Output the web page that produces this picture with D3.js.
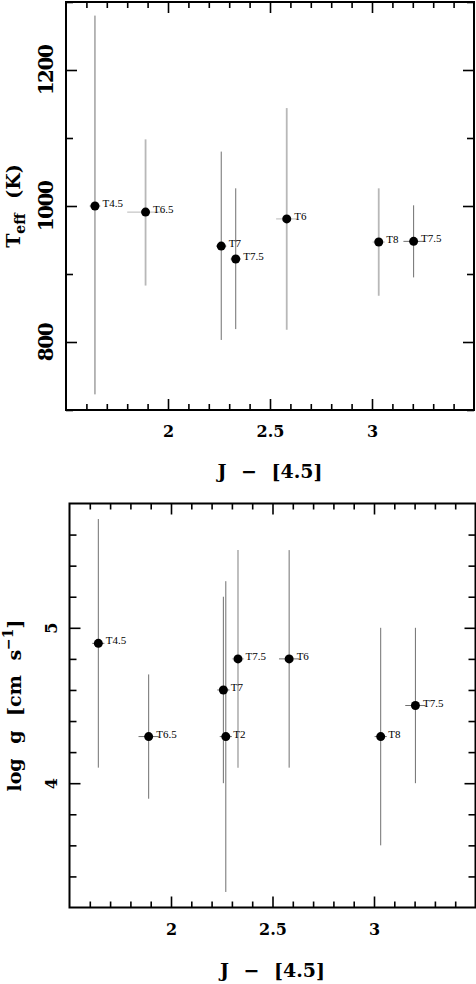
<!DOCTYPE html>
<html>
<head>
<meta charset="utf-8">
<script src="https://cdn.jsdelivr.net/npm/d3@7"></script>
<style>
  body { margin: 0; background: #fff; }
  svg { display: block; }
  .tick text { font-family: "DejaVu Serif", serif; font-weight: bold; }
</style>
</head>
<body>
<div id="graph"></div>
<script>
// x axis: J - [4.5] colour
var xTicks = [2, 2.5, 3];
var xDomain = [1.5, 3.5];

// top panel: Teff
var teffNames = ["T4.5", "T6.5", "T7", "T7.5", "T6", "T8", "T7.5"];
var teffColor = [1.642, 1.89, 2.261, 2.332, 2.582, 3.033, 3.204];
var teffColorErr = [0.026, 0.09, 0.025, 0.025, 0.052, 0.03, 0.05];
var teffValue = [1000, 991, 941, 922, 981, 947, 948];
var teffHigh = [1280, 1098, 1080, 1026, 1144, 1026, 1001];
var teffLow = [723, 883, 803, 819, 818, 868, 895];
var teffLight = [false, true, false, false, true, true, false];
var teffTicks = [800, 1000, 1200];
var teffMinor = [700, 900, 1100, 1300];

// bottom panel: log g
var loggNames = ["T4.5", "T6.5", "T7", "T2", "T7.5", "T6", "T8", "T7.5"];
var loggColor = [1.642, 1.89, 2.258, 2.27, 2.33, 2.582, 3.033, 3.204];
var loggColorErr = [0.03, 0.05, 0.03, 0.03, 0.03, 0.05, 0.03, 0.05];
var loggValue = [4.9, 4.3, 4.6, 4.3, 4.8, 4.8, 4.3, 4.5];
var loggHigh = [5.7, 4.7, 5.2, 5.3, 5.5, 5.5, 5.0, 5.0];
var loggLow = [4.1, 3.9, 4.0, 3.3, 4.1, 4.1, 3.6, 4.0];
var loggLight = [false, false, false, false, true, false, false, false];
var loggTicks = [4, 5];
var loggMinor = [3.4, 3.6, 3.8, 4.2, 4.4, 4.6, 4.8, 5.2, 5.4, 5.6];

var svg = d3.select("#graph").append("svg")
    .attr("width", 476)
    .attr("height", 984);

function panel(opt) {
    var g = svg.append("g")
        .attr("transform", "translate(" + opt.left + "," + opt.top + ")");
    var w = opt.width, h = opt.height;

    var x = d3.scaleLinear().domain(xDomain).range([0, w]);
    var y = d3.scaleLinear().domain(opt.yDomain).range([h, 0]);

    var xMinor = d3.range(16, 35).map(function (d) { return d / 10; })
        .filter(function (d) { return xTicks.indexOf(d) < 0; });

    function ticks(axis, vals, len, labels, tr) {
        var a = axis.tickValues(vals).tickSizeInner(-len).tickSizeOuter(0)
            .tickFormat(labels ? String : "");
        var ax = g.append("g").attr("transform", tr).call(a);
        ax.select(".domain").remove();
        ax.selectAll(".tick line").attr("stroke", "#000").attr("stroke-width", 1.6);
        return ax;
    }

    // bottom
    var bx = ticks(d3.axisBottom(x), xTicks, 11, true, "translate(0," + h + ")");
    bx.selectAll(".tick text")
        .attr("font-size", 16).attr("fill", "#000")
        .attr("y", 27).attr("dy", null);
    ticks(d3.axisBottom(x), xMinor, 6, false, "translate(0," + h + ")");
    // top
    ticks(d3.axisTop(x), xTicks, 11, false, "translate(0,0)");
    ticks(d3.axisTop(x), xMinor, 6, false, "translate(0,0)");
    // left
    var ly = ticks(d3.axisLeft(y), opt.yTicks, 11, true, "translate(0,0)");
    ly.selectAll(".tick text")
        .attr("font-size", opt.yTickSize).attr("fill", "#000")
        .attr("letter-spacing", opt.yTickSpacing)
        .attr("text-anchor", "middle")
        .attr("x", null).attr("dy", null)
        .attr("transform", "translate(" + (-opt.tickLabelGap) + ",0) rotate(-90)");
    ticks(d3.axisLeft(y), opt.yMinor, 7, false, "translate(0,0)");
    // right
    ticks(d3.axisRight(y), opt.yTicks, 11, false, "translate(" + w + ",0)");
    ticks(d3.axisRight(y), opt.yMinor, 7, false, "translate(" + w + ",0)");

    // frame
    g.append("rect")
        .attr("width", w).attr("height", h)
        .attr("fill", "none").attr("stroke", "#000").attr("stroke-width", 2);

    var data = opt.names.map(function (n, i) {
        return { name: n, c: opt.color[i], ce: opt.colorErr[i], v: opt.value[i],
                 hi: opt.high[i], lo: opt.low[i], light: opt.light[i] };
    });

    // error bars
    g.selectAll(".ey").data(data).enter().append("line")
        .attr("x1", function (d) { return x(d.c); })
        .attr("x2", function (d) { return x(d.c); })
        .attr("y1", function (d) { return y(d.hi); })
        .attr("y2", function (d) { return y(d.lo); })
        .attr("stroke", function (d) { return d.light ? "#b8b8b8" : "#707070"; })
        .attr("stroke-width", function (d) { return d.light ? 1.8 : 1; });

    g.selectAll(".ex").data(data).enter().append("line")
        .attr("x1", function (d) { return x(d.c - d.ce); })
        .attr("x2", function (d) { return x(d.c + d.ce); })
        .attr("y1", function (d) { return y(d.v); })
        .attr("y2", function (d) { return y(d.v); })
        .attr("stroke", function (d) { return d.light ? "#b8b8b8" : "#707070"; })
        .attr("stroke-width", 1);

    g.selectAll(".pt").data(data).enter().append("circle")
        .attr("cx", function (d) { return x(d.c); })
        .attr("cy", function (d) { return y(d.v); })
        .attr("r", 4.5)
        .attr("fill", "#000");

    g.selectAll(".lab").data(data).enter().append("text")
        .attr("x", function (d) { return x(d.c) + 7.5; })
        .attr("y", function (d) { return y(d.v) + 1; })
        .attr("font-family", "'Liberation Serif', 'DejaVu Serif', serif")
        .attr("font-size", 11)
        .attr("fill", "#000")
        .text(function (d) { return d.name; });

    // x title
    g.append("text")
        .attr("x", w / 2)
        .attr("y", h + opt.xTitleGap)
        .attr("text-anchor", "middle")
        .attr("font-family", "'DejaVu Serif', serif")
        .attr("font-weight", "bold")
        .attr("font-size", 19)
        .attr("word-spacing", 8)
        .text("J \u2212 [4.5]");

    // y title
    var yt = g.append("text")
        .attr("transform", "translate(" + (-opt.yTitleGap) + "," + (h / 2) + ") rotate(-90)")
        .attr("text-anchor", "middle")
        .attr("font-family", "'DejaVu Serif', serif")
        .attr("font-weight", "bold")
        .attr("font-size", 19)
        .attr("word-spacing", 8);
    opt.yTitle(yt);
}

panel({
    left: 66, top: 2, width: 408, height: 408,
    yDomain: [700, 1300], yTicks: teffTicks, yMinor: teffMinor,
    names: teffNames, color: teffColor, colorErr: teffColorErr, value: teffValue,
    high: teffHigh, low: teffLow, light: teffLight,
    yTickSize: 20, yTickSpacing: -1.5,
    tickLabelGap: 13, xTitleGap: 68, yTitleGap: 46,
    yTitle: function (t) {
        t.append("tspan").text("T");
        t.append("tspan").attr("font-size", 14).attr("dy", 5).text("eff");
        t.append("tspan").attr("dy", -5).text(" (K)");
    }
});

panel({
    left: 69.5, top: 503.5, width: 406, height: 404,
    yDomain: [3.2, 5.8], yTicks: loggTicks, yMinor: loggMinor,
    names: loggNames, color: loggColor, colorErr: loggColorErr, value: loggValue,
    high: loggHigh, low: loggLow, light: loggLight,
    yTickSize: 16, yTickSpacing: 0,
    tickLabelGap: 12.5, xTitleGap: 69, yTitleGap: 48.5,
    yTitle: function (t) {
        t.append("tspan").text("log g [cm s");
        t.append("tspan").attr("font-size", 14).attr("dy", -8).text("\u22121");
        t.append("tspan").attr("dy", 8).text("]");
    }
});
</script>
</body>
</html>
